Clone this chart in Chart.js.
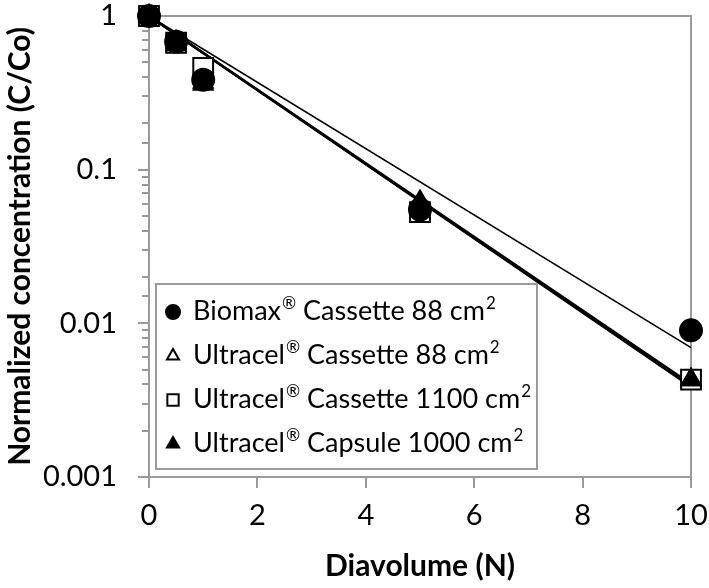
<!doctype html>
<html>
<head>
<meta charset="utf-8">
<title>Normalized concentration vs diavolume</title>
<script src="https://cdn.jsdelivr.net/npm/chart.js@4.4.0/dist/chart.umd.min.js"></script>
<style>
	body { margin: 0; background: #fff; }
	#container { width: 709px; height: 588px; }
</style>
</head>
<body>
<div id="container">
	<canvas id="canvas" width="709" height="588"></canvas>
</div>
<script>
	// values
	var diavolumes = [0, 0.5, 1, 5, 10];
	var biomax88 = [1, 0.68, 0.385, 0.055, 0.009];
	var ultracel88 = [1, 0.65, 0.37, 0.057, 0.0043];
	var ultracel1100 = [1, 0.67, 0.46, 0.053, 0.0043];
	var capsule1000 = [1, 0.68, 0.36, 0.062, 0.0043];
	var seriesLabels = ['Biomax® Cassette 88 cm²', 'Ultracel® Cassette 88 cm²',
		'Ultracel® Cassette 1100 cm²', 'Ultracel® Capsule 1000 cm²'];
	var xTickStep = 2;
	var yMin = 0.001, yMax = 1;

	var axisGray = '#9a9a9a';
	var fontName = 'Lato, "Open Sans", sans-serif';

	function points(ys) {
		return diavolumes.map(function (x, i) { return { x: x, y: ys[i] }; });
	}

	// exponential trend line with intercept fixed at 1 (y = e^(b x))
	function trend(ys) {
		var sxy = 0, sxx = 0;
		diavolumes.forEach(function (x, i) {
			sxy += x * Math.log(ys[i]);
			sxx += x * x;
		});
		var b = sxy / sxx;
		var last = diavolumes[diavolumes.length - 1];
		return [{ x: 0, y: 1 }, { x: last, y: Math.exp(b * last) }];
	}

	function isMajor(v) {
		var l = Math.log10(v);
		return Math.abs(l - Math.round(l)) < 1e-9;
	}

	function pointSet(label, ys, style, fill, radius, order) {
		return {
			label: label,
			data: points(ys),
			pointStyle: style,
			backgroundColor: fill,
			borderColor: '#000',
			pointBorderWidth: 2,
			pointRadius: radius,
			pointHoverRadius: radius,
			showLine: false,
			clip: false,
			order: order
		};
	}

	function trendSet(ys, width) {
		return {
			label: 'trend',
			data: trend(ys),
			showLine: true,
			borderColor: '#000',
			borderWidth: width,
			pointRadius: 0,
			fill: false,
			clip: false,
			order: 10
		};
	}

	var legendRadius = [7, 7, 8, 7];

	// superscript marks (® and ²) are drawn smaller and raised
	function drawRichText(ctx, text, x, y, size) {
		text.split(/([®²])/).forEach(function (part) {
			if (!part) return;
			var sup = part === '®' || part === '²';
			var shown = part === '²' ? '2' : part;
			ctx.font = (sup ? Math.round(size * 0.62) : size) + 'px ' + fontName;
			ctx.fillText(shown, x + (sup ? 1 : 0), sup ? y - size * 0.4 : y);
			x += ctx.measureText(shown).width + (sup ? 1 : 0);
		});
	}

	var frameAndLegend = {
		id: 'frameAndLegend',
		beforeDatasetsDraw: function (chart) {
			var ctx = chart.ctx, a = chart.chartArea;
			ctx.save();
			ctx.strokeStyle = axisGray;
			ctx.lineWidth = 2;
			ctx.beginPath();
			ctx.moveTo(a.left, a.top);
			ctx.lineTo(a.right, a.top);
			ctx.lineTo(a.right, a.bottom);
			ctx.stroke();
			// minor ticks on the log axis
			var y = chart.scales.y;
			ctx.beginPath();
			y.ticks.forEach(function (t) {
				if (isMajor(t.value)) return;
				var py = Math.round(y.getPixelForValue(t.value));
				ctx.moveTo(a.left - 7, py);
				ctx.lineTo(a.left, py);
			});
			ctx.stroke();
			ctx.restore();
		},
		afterDraw: function (chart) {
			var ctx = chart.ctx, a = chart.chartArea;
			var left = a.left + 7, width = 381, height = 185;
			var top = a.bottom - 8 - height;
			ctx.save();
			ctx.fillStyle = '#fff';
			ctx.fillRect(left, top, width, height);
			ctx.strokeStyle = axisGray;
			ctx.lineWidth = 2;
			ctx.strokeRect(left, top, width, height);
			var rowH = 44, firstRow = top + 28;
			for (var i = 0; i < seriesLabels.length; i++) {
				var ds = chart.data.datasets[i];
				var cy = firstRow + i * rowH;
				ctx.fillStyle = ds.backgroundColor;
				ctx.strokeStyle = '#000';
				ctx.lineWidth = 2;
				Chart.helpers.drawPoint(ctx, {
					pointStyle: ds.pointStyle, radius: legendRadius[i], rotation: 0, borderWidth: 2
				}, left + 17, cy);
				ctx.fillStyle = '#000';
				ctx.textBaseline = 'alphabetic';
				drawRichText(ctx, seriesLabels[i], left + 37, cy + 8, 27);
			}
			ctx.restore();
		}
	};

	var ctx = document.getElementById('canvas').getContext('2d');
	window.myChart = new Chart(ctx, {
		type: 'scatter',
		data: {
			datasets: [
				pointSet(seriesLabels[0], biomax88, 'circle', '#000', 11, 1),
				pointSet(seriesLabels[1], ultracel88, 'triangle', '#fff', 11, 3),
				pointSet(seriesLabels[2], ultracel1100, 'rect', '#fff', 14, 4),
				pointSet(seriesLabels[3], capsule1000, 'triangle', '#000', 11, 2),
				trendSet(biomax88, 1.5),
				trendSet(ultracel88, 2.2),
				trendSet(ultracel1100, 2.2),
				trendSet(capsule1000, 2.2)
			]
		},
		options: {
			responsive: false,
			animation: false,
			layout: { padding: { top: 12, right: 18, left: 0, bottom: 0 } },
			plugins: {
				legend: { display: false },
				tooltip: { enabled: false }
			},
			scales: {
				x: {
					type: 'linear',
					min: 0,
					max: 10,
					afterFit: function (s) {
						s.height = 111;
						s.paddingLeft = 0;
						s.paddingRight = 0;
					},
					ticks: {
						stepSize: xTickStep,
						color: '#000',
						padding: 10,
						font: { family: fontName, size: 29 }
					},
					grid: {
						drawOnChartArea: false,
						tickLength: 11,
						color: axisGray,
						lineWidth: 2
					},
					border: { color: axisGray, width: 2 },
					title: {
						display: true,
						text: 'Diavolume (N)',
						color: '#000',
						padding: { top: 0, bottom: 4 },
						font: { family: fontName, size: 30, weight: 'bold' }
					}
				},
				y: {
					type: 'logarithmic',
					min: yMin,
					max: yMax,
					afterFit: function (s) {
						s.width = 149;
						s.paddingTop = 0;
						s.paddingBottom = 0;
					},
					ticks: {
						autoSkip: false,
						color: '#000',
						padding: 21,
						font: { family: fontName, size: 29 },
						callback: function (v) { return isMajor(v) ? String(v) : ''; }
					},
					grid: {
						drawOnChartArea: false,
						tickLength: 11,
						lineWidth: 2,
						color: axisGray,
						tickColor: function (c) {
							return c.tick && isMajor(c.tick.value) ? axisGray : 'rgba(0,0,0,0)';
						}
					},
					border: { color: axisGray, width: 2 },
					title: {
						display: true,
						text: 'Normalized concentration (C/Co)',
						color: '#000',
						padding: { top: 2, bottom: 0 },
						font: { family: fontName, size: 30, weight: 'bold' }
					}
				}
			}
		},
		plugins: [frameAndLegend]
	});
</script>
</body>
</html>
